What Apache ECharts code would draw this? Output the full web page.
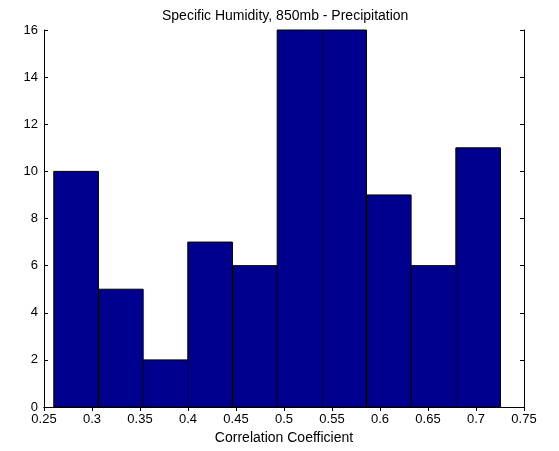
<!DOCTYPE html>
<html>
<head>
<meta charset="utf-8">
<script src="https://cdn.jsdelivr.net/npm/echarts@6/dist/echarts.min.js"></script>
<style>html,body{margin:0;padding:0;background:#fff;}#c{width:559px;height:451px;}</style>
</head>
<body>
<div id="c"></div>
<script>
var binEdges = [0.2602, 0.3067, 0.3533, 0.3998, 0.4463, 0.4929, 0.5394, 0.5859, 0.6324, 0.6790, 0.7255];
var counts = [10, 5, 2, 7, 6, 16, 16, 9, 6, 11];
var xTicks = [0.25, 0.3, 0.35, 0.4, 0.45, 0.5, 0.55, 0.6, 0.65, 0.7, 0.75];
var yTicks = [0, 2, 4, 6, 8, 10, 12, 14, 16];
var titleText = 'Specific Humidity, 850mb - Precipitation';
var xName = 'Correlation Coefficient';

var data = counts.map(function (c, i) { return [binEdges[i], binEdges[i + 1], c]; });
var font = 'Liberation Sans, Arial, sans-serif';
var chart = echarts.init(document.getElementById('c'), null, {renderer: 'canvas'});
function xLabel(v) { return String(Math.round(v * 100) / 100); }
var axCommonX = {
  type: 'value', min: xTicks[0], max: xTicks[xTicks.length - 1], interval: 0.05,
  splitLine: {show: false},
  axisLine: {show: true, lineStyle: {color: '#000', width: 1}},
  axisTick: {show: true, inside: true, length: 4, lineStyle: {color: '#000'}}
};
var axCommonY = {
  type: 'value', min: yTicks[0], max: yTicks[yTicks.length - 1], interval: 2,
  splitLine: {show: false},
  axisLine: {show: true, lineStyle: {color: '#000', width: 1}},
  axisTick: {show: true, inside: true, length: 4, lineStyle: {color: '#000'}}
};
chart.setOption({
  animation: false,
  backgroundColor: '#fff',
  title: {text: titleText, left: 157, top: 4,
    textStyle: {fontFamily: font, fontSize: 14, fontWeight: 'normal', color: '#000'}},
  grid: {left: 44, top: 30, width: 480, height: 377, show: false},
  xAxis: [
    Object.assign({}, axCommonX, {position: 'bottom', name: xName, nameLocation: 'middle', nameGap: 23,
      nameTextStyle: {fontFamily: font, fontSize: 14, color: '#000'},
      axisLabel: {fontFamily: font, fontSize: 13, color: '#000', margin: 6, formatter: xLabel}}),
    Object.assign({}, axCommonX, {position: 'top', axisLabel: {show: false}})
  ],
  yAxis: [
    Object.assign({}, axCommonY, {position: 'left',
      axisLabel: {fontFamily: font, fontSize: 13, color: '#000', margin: 6}}),
    Object.assign({}, axCommonY, {position: 'right', axisLabel: {show: false}})
  ],
  series: [{
    type: 'custom',
    data: data,
    encode: {x: [0, 1], y: 2},
    renderItem: function (params, api) {
      var p0 = api.coord([api.value(0), 0]);
      var p1 = api.coord([api.value(1), api.value(2)]);
      return {
        type: 'rect',
        shape: {x: p0[0], y: p1[1], width: p1[0] - p0[0], height: p0[1] - p1[1]},
        style: {fill: '#00008F', stroke: '#000', lineWidth: 1}
      };
    }
  }]
});
</script>
</body>
</html>
